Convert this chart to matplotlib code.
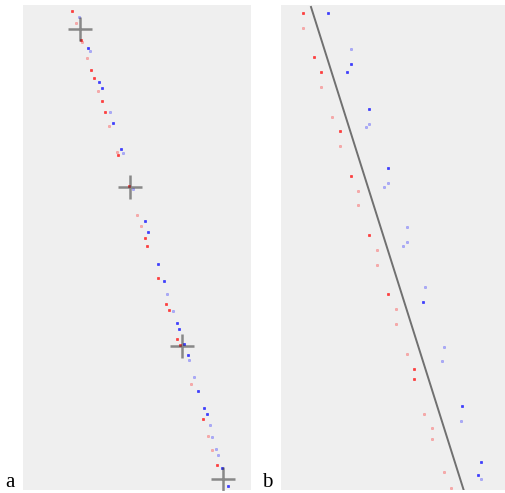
import matplotlib
matplotlib.use("Agg")
import matplotlib.pyplot as plt

# ---- Panel a data (arbitrary units) ----
a_red_solid = [(72,9),(81,37.7),(91.3,68.3),(94,76),(101.7,99.3),(105,110.3),(118,152.7),(129.3,184),
               (145,235.7),(147.3,243.7),(158.3,275.7),(166.3,302),(169.3,308),(177.3,336.7),(180,343.3),
               (203.3,417.3),(217.3,463)]
a_red_faded = [(76,21),(82.3,40),(87.3,56),(97.7,89),(108.7,124),(116.7,150),(137,213.3),(141,224),
               (191.3,381.7),(208.3,434),(212.3,448.3)]
a_blue_solid = [(88.3,46),(99.3,80.3),(102,86),(112.7,120.7),(120.7,147.3),(144.7,219.3),(147.7,230),
                (158.3,262.3),(163.7,279),(176.7,321),(179.3,326.7),(183.7,342.3),(187.7,353.3),(198.3,388.7),
                (204,406.3),(206.7,412),(222.3,465.7),(228.3,484)]
a_blue_faded = [(78.7,15),(90,49.3),(109.7,110),(123.3,151),(133.3,186.7),(166.7,291.7),(173,309),
                (189.3,358.3),(193.7,374.7),(209.7,423),(212.3,435.3),(216,446.7),(218.3,452.7)]
a_crosses = [(80,26.7),(130,185),(181.7,344.3),(223.3,477.3)]

# ---- Panel b data ----
b_line = [(311,5),(464.3,490)]
b_red_solid = [(303,11),(314.3,55),(320.7,70),(339.7,129),(350.7,174),(369.3,233.3),(388,292),
               (413.7,367),(413.7,377.3)]
b_red_faded = [(303,26),(320.7,85),(331.7,115),(339.7,144),(358.3,189),(358.3,203),(377,248),(377,263),
               (395.7,307.3),(395.7,322),(406.7,352),(424.3,411.7),(432,426),(432,437.3),(443.7,470),(451,485.7)]
b_blue_solid = [(328,11),(350.7,62.3),(346.7,70),(369.3,107.3),(388.3,166.3),(423.3,300),(462.3,403.7),
                (481,460),(477.7,473.3)]
b_blue_faded = [(350.7,47.3),(369.3,121.7),(365.7,125.3),(388.3,181.3),(384.3,185),(407.3,225.3),
                (407.3,240.3),(403,244.3),(425,285.3),(443.7,344.7),(441.7,359.3),(461,418.7),(480.7,477.3)]

panel_labels = ["a", "b"]

W, H = 505, 493
fig = plt.figure(figsize=(W/100, H/100), dpi=100)
fig.patch.set_facecolor("white")

ax_a = fig.add_axes([23/W, 3/H, 227.5/W, 485/H])
ax_b = fig.add_axes([281/W, 3/H, 224/W, 485/H])

def pts(ax, data, color, alpha):
    xs = [p[0] for p in data]
    ys = [p[1] for p in data]
    ax.plot(xs, ys, linestyle="none", marker="s", markersize=1.8, markeredgewidth=0.5,
            color=color, markeredgecolor=color, alpha=alpha)

for ax in (ax_a, ax_b):
    ax.set_facecolor("#efefef")
    for s in ax.spines.values():
        s.set_visible(False)
    ax.set_xticks([]); ax.set_yticks([])

pts(ax_a, a_red_faded, "#ff3030", 0.35)
pts(ax_a, a_blue_faded, "#3030ff", 0.35)
pts(ax_a, a_red_solid, "#ff2020", 0.85)
pts(ax_a, a_blue_solid, "#2020ff", 0.85)
ax_a.plot([p[0] for p in a_crosses], [p[1] for p in a_crosses], linestyle="none", marker="+",
          markersize=17, markeredgewidth=1.8, color="#333333", alpha=0.55)
ax_a.set_xlim(23, 250.5)
ax_a.set_ylim(488, 3)

ax_b.plot([p[0] for p in b_line], [p[1] for p in b_line], color="#707070", linewidth=1.4)
pts(ax_b, b_red_faded, "#ff3030", 0.35)
pts(ax_b, b_blue_faded, "#3030ff", 0.35)
pts(ax_b, b_red_solid, "#ff2020", 0.85)
pts(ax_b, b_blue_solid, "#2020ff", 0.85)
ax_b.set_xlim(281, 505)
ax_b.set_ylim(488, 3)

fig.text(5/W, 6/H, panel_labels[0], fontsize=15, family="Liberation Serif", ha="left", va="baseline")
fig.text(262/W, 6/H, panel_labels[1], fontsize=15, family="Liberation Serif", ha="left", va="baseline")

fig.savefig("out.png", dpi=100)
